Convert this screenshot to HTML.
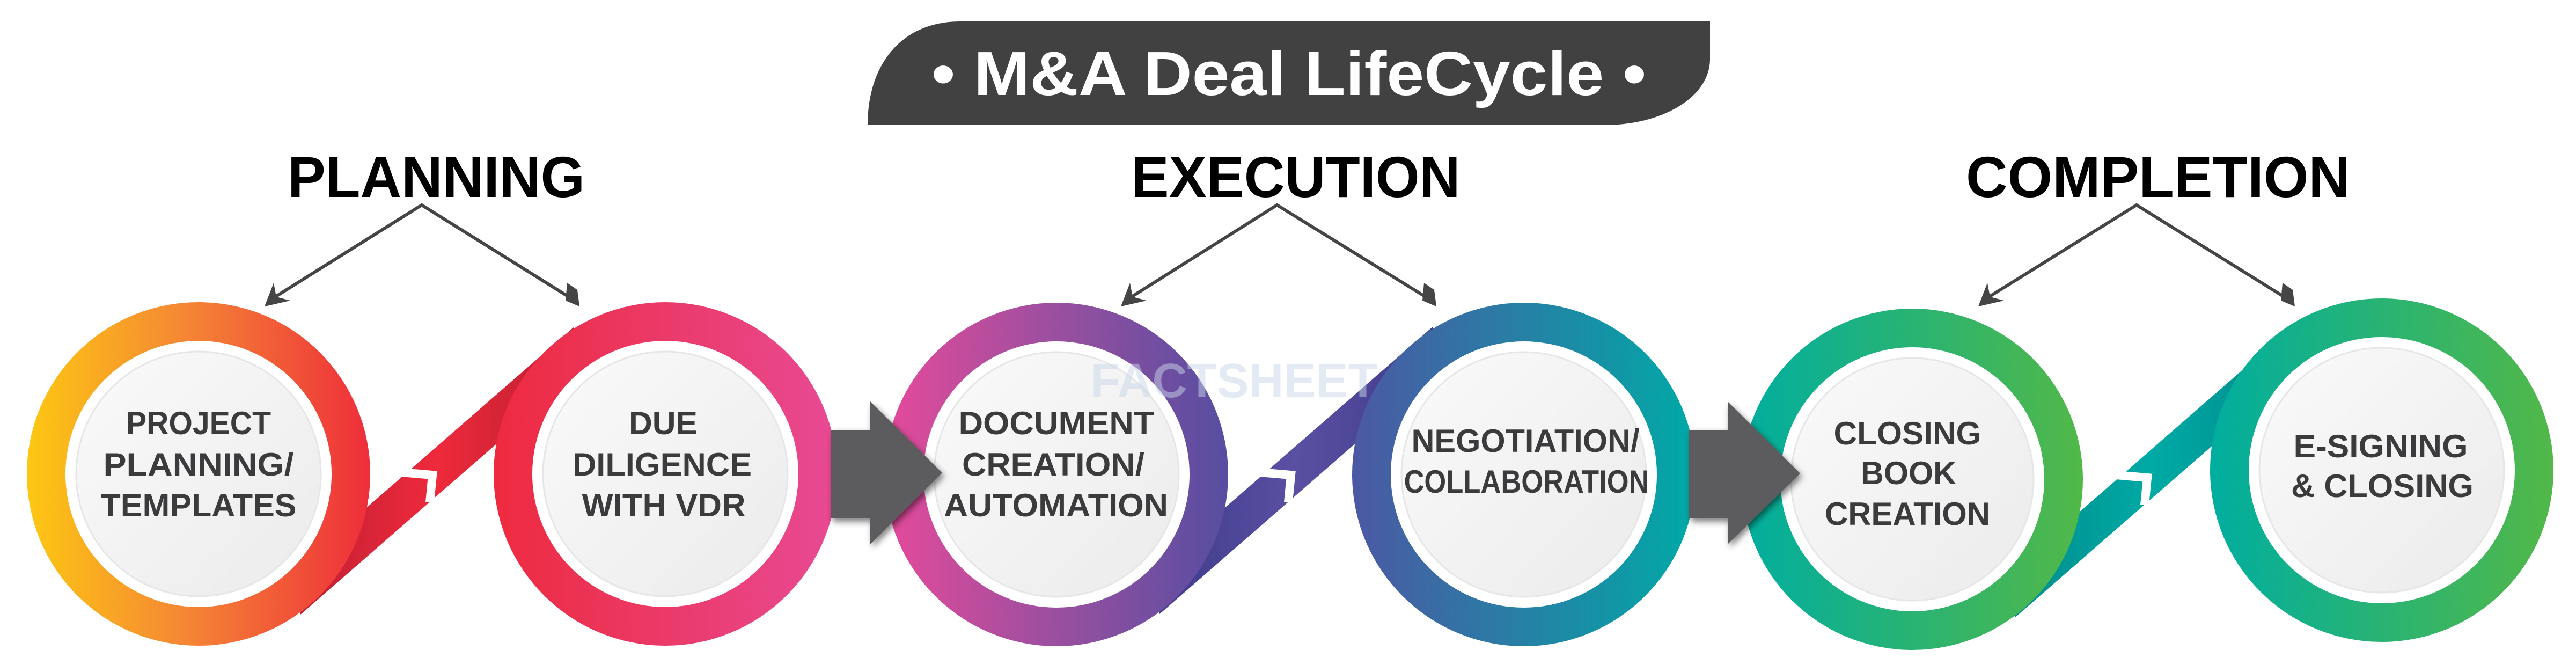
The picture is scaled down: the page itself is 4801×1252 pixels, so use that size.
<!DOCTYPE html>
<html><head><meta charset="utf-8"><style>
html,body{margin:0;padding:0;background:#fff;}
svg{display:block;}
text{font-family:"Liberation Sans",Arial,sans-serif;font-weight:bold;}
</style></head><body>
<svg width="4801" height="1252" viewBox="0 0 4801 1252" xmlns="http://www.w3.org/2000/svg">
<defs>
<linearGradient id="g1" x1="0" x2="1" y1="0" y2="0"><stop offset="0" stop-color="#fdc713"/><stop offset="0.45" stop-color="#f58834"/><stop offset="1" stop-color="#ee2e3a"/></linearGradient>
<linearGradient id="g2" x1="0" x2="1"><stop offset="0" stop-color="#ee2a3e"/><stop offset="1" stop-color="#e84a94"/></linearGradient>
<linearGradient id="g3" x1="0" x2="1"><stop offset="0" stop-color="#e54a9a"/><stop offset="0.5" stop-color="#9a4fa0"/><stop offset="1" stop-color="#564ea1"/></linearGradient>
<linearGradient id="g4" x1="0" x2="1"><stop offset="0" stop-color="#4c58a4"/><stop offset="1" stop-color="#00a9a6"/></linearGradient>
<linearGradient id="g5" x1="0" x2="1"><stop offset="0" stop-color="#00ae9f"/><stop offset="1" stop-color="#52b848"/></linearGradient>
<linearGradient id="inner" x1="0" y1="0" x2="1" y2="1"><stop offset="0" stop-color="#fafafa"/><stop offset="1" stop-color="#ebebeb"/></linearGradient>
<linearGradient id="r1" x1="0" x2="1"><stop offset="0" stop-color="#c21f33"/><stop offset="0.5" stop-color="#ee2a3c"/><stop offset="1" stop-color="#b81e2e"/></linearGradient>
<linearGradient id="r2" x1="0" x2="1"><stop offset="0" stop-color="#3f3a8a"/><stop offset="0.5" stop-color="#5a50a3"/><stop offset="1" stop-color="#3f3a8a"/></linearGradient>
<linearGradient id="r3" x1="0" x2="1"><stop offset="0" stop-color="#008c8c"/><stop offset="0.5" stop-color="#00aaa5"/><stop offset="1" stop-color="#008a8a"/></linearGradient>
<filter id="sh" x="-20%" y="-20%" width="140%" height="140%"><feGaussianBlur in="SourceAlpha" stdDeviation="6"/><feOffset dx="4" dy="6"/><feComponentTransfer><feFuncA type="linear" slope="0.5"/></feComponentTransfer><feMerge><feMergeNode/><feMergeNode in="SourceGraphic"/></feMerge></filter>
<marker id="ah" markerWidth="10" markerHeight="10" refX="7" refY="5" orient="auto" markerUnits="userSpaceOnUse" viewBox="0 0 10 10" >
</marker>
<g id="circ">
</g>
</defs>

<!-- Title tab -->
<path d="M1617 233 C1617 120 1680 40 1790 40 L3187 40 L3187 110 C3187 180 3100 233 2990 233 Z" fill="#414141"/>
<text x="2402" y="177" fill="#fff" font-size="116" text-anchor="middle" textLength="1332" lengthAdjust="spacingAndGlyphs">• M&amp;A Deal LifeCycle •</text>

<!-- Headers -->
<text x="813" y="367" font-size="108" fill="#000" text-anchor="middle" textLength="554" lengthAdjust="spacingAndGlyphs">PLANNING</text>
<text x="2415" y="367" font-size="108" fill="#000" text-anchor="middle" textLength="613" lengthAdjust="spacingAndGlyphs">EXECUTION</text>
<text x="4022" y="367" font-size="108" fill="#000" text-anchor="middle" textLength="716" lengthAdjust="spacingAndGlyphs">COMPLETION</text>

<!-- header arrows -->
<g stroke="#454545" stroke-width="6" fill="none">
<polyline points="505,558 786,382 1068,558"/>
<polyline points="2101,558 2380,382 2665,558"/>
<polyline points="3699,558 3982,382 4265,558"/>
</g>
<g fill="#454545">
<polygon points="493,571 510,527 515,553 541,560"/>
<polygon points="1080,571 1054,560 1057,527 1076,540"/>
<polygon points="2089,571 2106,527 2111,553 2137,560"/>
<polygon points="2677,571 2651,560 2654,527 2673,540"/>
<polygon points="3687,571 3704,527 3709,553 3735,560"/>
<polygon points="4277,571 4251,560 4254,527 4273,540"/>
</g>

<!-- ribbons -->
<g>
<polygon points="560,1053 1070,609 1070,701 560,1145" fill="url(#r1)"/>
<polyline points="748,880 806,885 801,936" fill="none" stroke="#fff" stroke-width="16"/>
</g>
<g transform="translate(1600,0)">
<polygon points="560,1053 1070,609 1070,701 560,1145" fill="url(#r2)"/>
<polyline points="748,880 806,885 801,936" fill="none" stroke="#fff" stroke-width="16"/>
</g>
<g transform="translate(3196,5)">
<polygon points="560,1053 1070,609 1070,701 560,1145" fill="url(#r3)"/>
<polyline points="748,880 806,885 801,936" fill="none" stroke="#fff" stroke-width="16"/>
</g>

<!-- circles -->
<g>
<circle cx="370" cy="883" r="320" fill="url(#g1)"/><circle cx="370" cy="883" r="248" fill="#fff"/><circle cx="370" cy="883" r="228" fill="url(#inner)" stroke="#e6e6e6" stroke-width="3"/>
<circle cx="1240" cy="883" r="320" fill="url(#g2)"/><circle cx="1240" cy="883" r="248" fill="#fff"/><circle cx="1240" cy="883" r="228" fill="url(#inner)" stroke="#e6e6e6" stroke-width="3"/>
<circle cx="1969" cy="884" r="320" fill="url(#g3)"/><circle cx="1969" cy="884" r="248" fill="#fff"/><circle cx="1969" cy="884" r="228" fill="url(#inner)" stroke="#e6e6e6" stroke-width="3"/>
<circle cx="2840" cy="884" r="320" fill="url(#g4)"/><circle cx="2840" cy="884" r="248" fill="#fff"/><circle cx="2840" cy="884" r="228" fill="url(#inner)" stroke="#e6e6e6" stroke-width="3"/>
<circle cx="3564" cy="893" r="318" fill="url(#g5)"/><circle cx="3564" cy="893" r="246" fill="#fff"/><circle cx="3564" cy="893" r="226" fill="url(#inner)" stroke="#e6e6e6" stroke-width="3"/>
<circle cx="4439" cy="876" r="320" fill="url(#g5)"/><circle cx="4439" cy="876" r="248" fill="#fff"/><circle cx="4439" cy="876" r="228" fill="url(#inner)" stroke="#e6e6e6" stroke-width="3"/>
</g>

<!-- watermark -->
<text x="2300" y="740" font-family="Liberation Serif,serif" font-size="90" fill="#c9d6ea" fill-opacity="0.5" text-anchor="middle" font-weight="normal">FACTSHEET</text>

<!-- gray arrows -->
<g fill="#5c5c5e" filter="url(#sh)">
<polygon points="1548,801 1622,801 1622,748 1756,881 1622,1014 1622,966 1548,966"/>
<polygon points="3148,801 3220,801 3220,748 3355,882 3220,1014 3220,966 3148,966"/>
</g>

<!-- circle labels -->
<g fill="#3b3a3c" font-size="60" text-anchor="middle">
<text x="370" y="809" textLength="270" lengthAdjust="spacingAndGlyphs">PROJECT</text>
<text x="370" y="886" textLength="355" lengthAdjust="spacingAndGlyphs">PLANNING/</text>
<text x="370" y="962" textLength="365" lengthAdjust="spacingAndGlyphs">TEMPLATES</text>

<text x="1236" y="809" textLength="128" lengthAdjust="spacingAndGlyphs">DUE</text>
<text x="1234" y="886" textLength="334" lengthAdjust="spacingAndGlyphs">DILIGENCE</text>
<text x="1237" y="962" textLength="305" lengthAdjust="spacingAndGlyphs">WITH VDR</text>

<text x="1969" y="809" textLength="365" lengthAdjust="spacingAndGlyphs">DOCUMENT</text>
<text x="1963" y="886" textLength="340" lengthAdjust="spacingAndGlyphs">CREATION/</text>
<text x="1968" y="962" textLength="418" lengthAdjust="spacingAndGlyphs">AUTOMATION</text>

<text x="2843" y="842" textLength="425" lengthAdjust="spacingAndGlyphs">NEGOTIATION/</text>
<text x="2845" y="918" textLength="457" lengthAdjust="spacingAndGlyphs">COLLABORATION</text>

<text x="3555" y="828" textLength="275" lengthAdjust="spacingAndGlyphs">CLOSING</text>
<text x="3557" y="902" textLength="178" lengthAdjust="spacingAndGlyphs">BOOK</text>
<text x="3555" y="978" textLength="308" lengthAdjust="spacingAndGlyphs">CREATION</text>

<text x="4437" y="852" textLength="325" lengthAdjust="spacingAndGlyphs">E-SIGNING</text>
<text x="4440" y="926" textLength="340" lengthAdjust="spacingAndGlyphs">&amp; CLOSING</text>
</g>
</svg>
</body></html>
